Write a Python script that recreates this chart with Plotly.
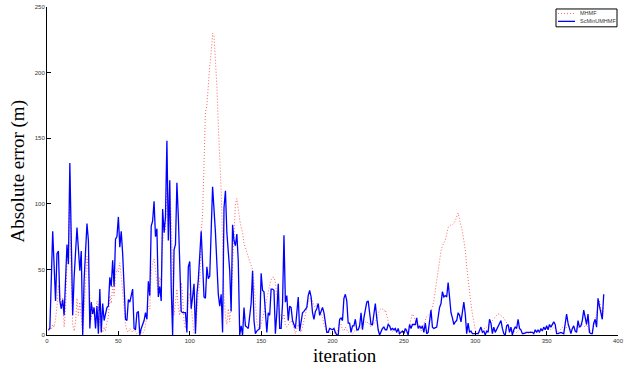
import plotly.graph_objects as go

# ScMinUMHMF (blue) : iteration / absolute error (m)
blue_iter = [1,2,4,6,7,8,9,10,11,12,14,15,16,17,18,19,21,23,24,25,26,28,29,30,31,32,33,34,35,36,37,38,39,40,42,43,44,45,46,47,48,49,50,51,52,53,54,55,56,57,58,59,60,61,62,63,64,65,66,68,69,70,71,72,73,74,75,76,77,78,79,80,81,82,83,84,85,86,87,88,89,90,91,92,93,94,95,97,98,99,100,101,102,103,104,105,106,108,110,111,112,113,114,116,118,120,121,122,123,124,125,126,128,129,130,131,132,133,134,135,136,137,138,139,140,141,143,144,145,146,147,149,150,151,152,153,154,155,156,157,158,159,160,161,162,163,164,165,166,167,168,169,170,171,172,174,175,176,177,178,179,180,182,183,184,185,186,187,188,189,190,191,193,194,196,197,198,200,201,202,203,204,205,206,207,208,209,210,211,212,213,214,215,216,217,218,219,220,221,222,224,225,226,227,228,230,231,232,233,235,236,237,238,239,240,241,242,243,244,245,246,247,248,249,250,251,252,253,254,255,256,258,259,260,261,262,263,264,265,266,267,268,269,270,271,273,274,275,276,277,278,279,280,281,282,283,284,285,286,287,288,289,290,291,292,293,294,295,296,297,298,300,302,304,305,306,307,308,309,310,311,312,313,314,316,317,318,319,320,321,322,323,324,325,326,327,328,329,330,331,332,333,334,336,337,338,340,341,342,343,344,345,346,347,348,349,350,351,352,353,354,355,356,357,358,360,362,364,365,366,367,368,369,370,371,372,373,374,375,376,377,378,379,380,381,382,383,384,385,386,387,388,389,390]
blue_err = [4,5,79,26,62,64,26,20,27,15,69,54,131,56,15,44,82,49,64,0,42,85,72,5,25,16,21,5,22,1,35,2,24,11,21,22,44,37,57,37,73,75,90,67,79,62,29,12,11,27,25,31,35,5,4,17,18,0,5,11,17,12,41,30,83,87,102,75,81,29,37,26,96,78,90,148,72,118,37,0,65,69,116,90,54,18,17,17,2,52,56,20,29,39,1,31,42,79,29,28,52,43,45,113,78,31,22,31,2,97,110,78,49,18,84,72,68,77,56,0,7,0,21,7,6,5,24,49,11,1,3,5,47,34,33,17,2,17,15,35,35,34,1,17,39,5,5,24,76,25,30,11,22,21,11,5,15,29,3,9,17,18,21,30,34,29,17,12,18,20,24,15,21,17,2,2,5,4,5,2,0,0,12,13,11,28,31,26,9,9,2,7,7,12,4,4,7,17,4,13,25,26,18,8,8,24,13,4,0,5,6,4,4,8,7,4,5,4,5,2,5,1,2,3,1,5,3,0,8,5,8,8,13,5,7,5,7,2,9,1,2,11,19,6,5,6,16,21,24,33,29,30,29,40,29,17,13,8,10,11,17,15,10,19,25,16,1,9,2,3,1,1,1,6,2,3,0,3,2,12,9,1,6,2,7,9,11,5,1,0,7,8,2,6,0,4,6,5,12,5,4,1,1,2,2,2,2,1,4,2,4,2,5,3,6,4,7,4,8,6,8,10,8,1,1,2,1,16,9,4,1,5,7,3,2,11,6,7,11,19,14,8,16,2,1,1,9,12,6,28,22,18,12,31]

# MHMF (red dotted) : absolute error (m) for iterations 1..390
red_err = [3,5,4,8,6,12,22,38,30,22,28,6,20,55,70,108,40,8,3,10,
           28,15,25,12,2,18,38,60,48,28,12,22,15,10,26,22,8,4,2,6,
           3,10,14,30,24,38,30,45,50,48,55,45,32,20,8,3,2,5,3,2,
           4,3,1,2,1,2,1,3,8,15,22,20,48,55,58,50,42,30,44,40,
           70,78,80,112,100,112,90,40,15,25,35,20,15,40,30,10,5,8,25,32,
           20,12,1,2,18,32,40,78,92,125,170,175,195,205,215,230,228,210,190,160,
           140,110,70,30,14,8,20,10,28,55,85,100,104,95,88,82,78,70,66,62,
           58,56,53,50,40,20,10,6,4,8,12,18,22,28,34,38,42,44,44,40,
           30,22,16,14,12,16,8,6,8,10,11,9,4,1,5,8,5,2,6,11,
           16,22,25,27,29,26,22,21,24,20,18,16,14,8,5,3,2,2,1,2,
           1,3,2,5,10,8,4,3,6,4,2,3,2,1,2,4,3,5,6,5,
           7,8,10,9,10,8,6,7,9,11,12,16,19,20,20,18,19,15,10,6,
           4,3,4,2,2,1,2,3,2,1,3,5,4,8,12,16,14,10,8,6,
           5,3,6,9,12,14,15,16,18,21,26,34,39,49,57,64,68,70,72,77,
           82,83,84,84,85,87,91,93,88,84,79,72,65,52,41,31,24,16,10,4,
           2,1,2,3,4,5,5,6,7,9,10,11,12,14,15,16,16,15,14,13,
           11,9,8,6,5,4,3,2,2,3,4,3,2,2,3,2,1,2,3,2,
           2,3,4,3,2,3,4,5,4,5,6,5,4,5,6,5,3,2,3,5,
           6,5,4,6,8,5,3,4,5,4,5,6,5,7,8,7,6,8,5,3,
           3,4,7,12,17,22,26,20,15,22]
red_iter = list(range(1, len(red_err) + 1))

x_ticks = [0, 50, 100, 150, 200, 250, 300, 350, 400]
y_ticks = [0, 50, 100, 150, 200, 250]
series_names = ["MHMF", "ScMinUMHMF"]
x_title = "iteration"
y_title = "Absolute error (m)"

RED = "rgba(255,60,60,0.8)"
BLUE = "#0000ff"
RED_DASH = "1px,2px"

fig = go.Figure()
fig.add_trace(go.Scatter(x=red_iter, y=red_err, mode="lines", name=series_names[0],
                         line=dict(color=RED, width=1, dash=RED_DASH), showlegend=False))
fig.add_trace(go.Scatter(x=blue_iter, y=blue_err, mode="lines", name=series_names[1],
                         line=dict(color=BLUE, width=1.3), showlegend=False))

axis_common = dict(showline=True, linecolor="black", linewidth=1, mirror=False,
                   ticks="inside", ticklen=4, tickcolor="black", tickwidth=1,
                   showgrid=False, zeroline=False,
                   tickfont=dict(family="Liberation Sans, Arial", size=6, color="#333"))
fig.update_xaxes(range=[0, 400], tickvals=x_ticks, ticktext=[str(v) for v in x_ticks], **axis_common)
fig.update_yaxes(range=[0, 250], tickvals=y_ticks, ticktext=[str(v) for v in y_ticks], **axis_common)

# manual MATLAB-style legend (paper coordinates)
L, R, T, B = 556, 617, 6, 24
W0, H0 = 571.0, 331.0
def px(xp): return (xp - 47) / W0
def py(yp): return (335 - yp) / H0
shapes = [
    dict(type="rect", xref="paper", yref="paper", x0=px(L), x1=px(R), y0=py(B), y1=py(T),
         line=dict(color="black", width=1), fillcolor="white", layer="above"),
    dict(type="line", xref="paper", yref="paper", x0=px(558), x1=px(575), y0=py(10.5), y1=py(10.5),
         line=dict(color=RED, width=1, dash=RED_DASH), layer="above"),
    dict(type="line", xref="paper", yref="paper", x0=px(558), x1=px(575), y0=py(18.5), y1=py(18.5),
         line=dict(color=BLUE, width=1.3), layer="above"),
]
lf = dict(family="Liberation Sans, Arial", size=5.5, color="#333")
annotations = [
    dict(text=series_names[0], xref="paper", yref="paper", x=px(577.5), y=py(10.5),
         xanchor="left", yanchor="middle", showarrow=False, font=lf),
    dict(text=series_names[1], xref="paper", yref="paper", x=px(577.5), y=py(18.5),
         xanchor="left", yanchor="middle", showarrow=False, font=lf),
    dict(text=x_title, xref="paper", yref="paper", x=px(345), y=py(356),
         xanchor="center", yanchor="middle", showarrow=False,
         font=dict(family="Liberation Serif, Times New Roman", size=19, color="black")),
    dict(text=y_title, xref="paper", yref="paper", x=px(18), y=py(170), textangle=-90,
         xanchor="center", yanchor="middle", showarrow=False,
         font=dict(family="Liberation Serif, Times New Roman", size=19, color="black")),
]

fig.update_layout(width=634, height=374, margin=dict(l=47, r=16, t=4, b=39),
                  paper_bgcolor="white", plot_bgcolor="white",
                  shapes=shapes, annotations=annotations, showlegend=False)

fig.write_html("out.html", config={"displayModeBar": False},
               post_script="document.body.style.margin='0';document.body.style.padding='0';")
